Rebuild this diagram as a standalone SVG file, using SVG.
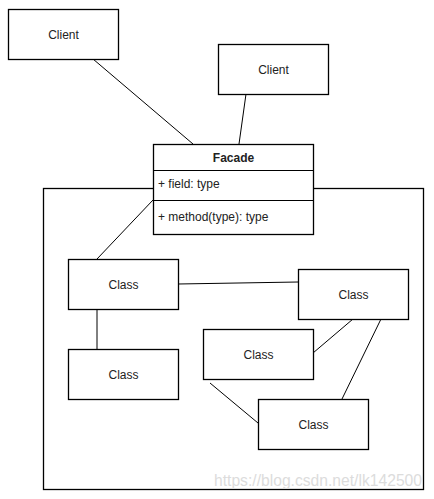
<svg xmlns="http://www.w3.org/2000/svg" width="434" height="499" viewBox="0 0 434 499">
<style>
.box{fill:#fff;stroke:#000;stroke-width:1.3}
.ln{stroke:#000;stroke-width:1;fill:none}
text{font-family:"Liberation Sans",Arial,sans-serif;font-size:12px;fill:#222}
.c{text-anchor:middle;dominant-baseline:central}
.b{font-weight:bold}
.wm{font-size:16px;fill:#dcdcdc}
</style>
<rect width="434" height="499" fill="#fff"/>
<g id="container"><rect class="box" x="43.5" y="188.5" width="380" height="301"/></g>
<g id="connectors">
<line class="ln" x1="93" y1="59" x2="193" y2="144"/>
<line class="ln" x1="246" y1="94" x2="239" y2="144"/>
<line class="ln" x1="153" y1="200" x2="97" y2="259"/>
<line class="ln" x1="97" y1="309" x2="97" y2="349"/>
<line class="ln" x1="178" y1="284" x2="298" y2="282"/>
<line class="ln" x1="353" y1="319" x2="313" y2="353"/>
<line class="ln" x1="381" y1="319" x2="342" y2="399"/>
<line class="ln" x1="210" y1="383" x2="258" y2="423"/>
</g>
<g id="client1"><rect class="box" x="8.5" y="9.5" width="110" height="50"/><text class="c" x="63.5" y="34.5">Client</text></g>
<g id="client2"><rect class="box" x="218.5" y="44.5" width="110" height="50"/><text class="c" x="273.5" y="69.5">Client</text></g>
<g id="facade">
<rect class="box" x="153.5" y="144.5" width="160" height="90"/>
<line class="ln" x1="153.5" y1="170.5" x2="313.5" y2="170.5"/>
<line class="ln" x1="153.5" y1="200.5" x2="313.5" y2="200.5"/>
<text class="c b" x="233.5" y="158">Facade</text>
<text x="158" y="188">+ field: type</text>
<text x="158" y="221">+ method(type): type</text>
</g>
<g id="classA"><rect class="box" x="68.5" y="259.5" width="110" height="50"/><text class="c" x="123.5" y="284.5">Class</text></g>
<g id="classB"><rect class="box" x="298.5" y="269.5" width="110" height="50"/><text class="c" x="353.5" y="294.5">Class</text></g>
<g id="classC"><rect class="box" x="203.5" y="329.5" width="110" height="50"/><text class="c" x="258.5" y="354.5">Class</text></g>
<g id="classD"><rect class="box" x="68.5" y="349.5" width="110" height="50"/><text class="c" x="123.5" y="374.5">Class</text></g>
<g id="classE"><rect class="box" x="258.5" y="399.5" width="110" height="50"/><text class="c" x="313.5" y="424.5">Class</text></g>
<text class="wm" x="214" y="486" textLength="208" lengthAdjust="spacingAndGlyphs">https://blog.csdn.net/lk142500</text>
</svg>
